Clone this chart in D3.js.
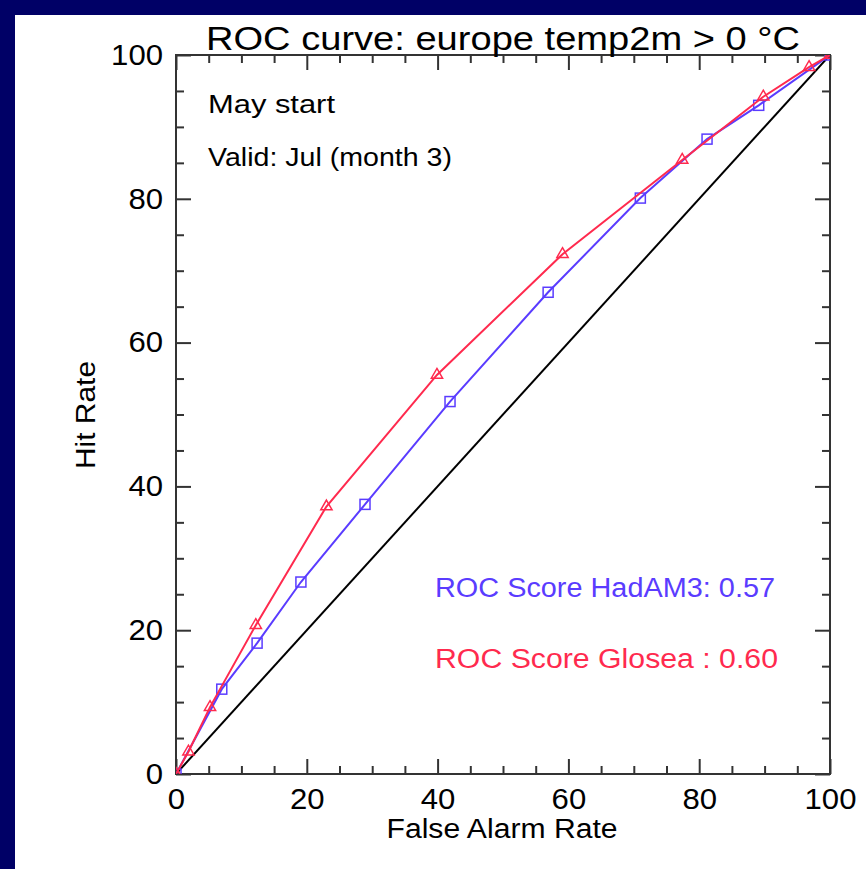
<!DOCTYPE html>
<html>
<head>
<meta charset="utf-8">
<script src="https://cdn.jsdelivr.net/npm/d3@7"></script>
<style>
html,body{margin:0;padding:0;background:#000066;}
svg{display:block;}
text{font-family:"Liberation Sans","DejaVu Sans",sans-serif;}
</style>
</head>
<body>
<script>
// ---- data ----
const titleText = "ROC curve: europe temp2m > 0 \u00B0C";
const xLabel = "False Alarm Rate";
const yLabel = "Hit Rate";
const noteLines = ["May start", "Valid: Jul (month 3)"];
const majorTicks = [0, 20, 40, 60, 80, 100];
const minorTicks = [5,10,15,25,30,35,45,50,55,65,70,75,85,90,95];
const hadFAR = [0, 7.0, 12.4, 19.1, 28.9, 41.9, 56.9, 71.0, 81.2, 89.1, 100];
const hadHR  = [0, 11.8, 18.2, 26.7, 37.5, 51.8, 67.0, 80.1, 88.3, 93.0, 100];
const gloFAR = [0, 1.9, 5.2, 12.2, 23.0, 39.9, 59.1, 77.4, 89.8, 96.8, 100];
const gloHR  = [0, 3.1, 9.3, 20.7, 37.2, 55.5, 72.3, 85.4, 94.2, 98.3, 100];
const diagonal = [0, 100];
const scoreLabels = ["ROC Score HadAM3: 0.57", "ROC Score Glosea : 0.60"];
const blue = "#5a3cff", red = "#ff2a4e";

const W = 866, H = 869;
const L = 176, R = 830, T = 55, B = 774;
const svg = d3.select("body").append("svg").attr("width", W).attr("height", H);
svg.append("rect").attr("x", 15).attr("y", 15).attr("width", W - 15).attr("height", H - 15).attr("fill", "#fff");

const x = d3.scaleLinear().domain([0, 100]).range([L, R]);
const y = d3.scaleLinear().domain([0, 100]).range([B, T]);

const axisColor = "#333";
function styleAxis(g){
  g.select(".domain").remove();
  g.selectAll("line").attr("stroke", axisColor).attr("stroke-width", 2);
  g.selectAll("text").attr("fill", "#000").style("font-size", "29px").attr("font-family", null)
    .attr("textLength", function(){ return this.textContent.length * 17.3; })
    .attr("lengthAdjust", "spacingAndGlyphs");
}
// major ticks with labels
svg.append("g").attr("transform", `translate(0,${B})`)
  .call(d3.axisBottom(x).tickValues(majorTicks).tickSize(-15).tickPadding(13).tickFormat(d3.format("d")))
  .call(styleAxis).selectAll("text").attr("dy", "0.75em");
svg.append("g").attr("transform", `translate(${L},0)`)
  .call(d3.axisLeft(y).tickValues(majorTicks).tickSize(-15).tickPadding(13).tickFormat(d3.format("d")))
  .call(styleAxis);
svg.append("g").attr("transform", `translate(0,${T})`)
  .call(d3.axisTop(x).tickValues(majorTicks).tickSize(-15).tickFormat(""))
  .call(styleAxis);
svg.append("g").attr("transform", `translate(${R},0)`)
  .call(d3.axisRight(y).tickValues(majorTicks).tickSize(-15).tickFormat(""))
  .call(styleAxis);
// minor ticks
svg.append("g").attr("transform", `translate(0,${B})`).call(d3.axisBottom(x).tickValues(minorTicks).tickSize(-8).tickFormat("")).call(styleAxis);
svg.append("g").attr("transform", `translate(${L},0)`).call(d3.axisLeft(y).tickValues(minorTicks).tickSize(-8).tickFormat("")).call(styleAxis);
svg.append("g").attr("transform", `translate(0,${T})`).call(d3.axisTop(x).tickValues(minorTicks).tickSize(-8).tickFormat("")).call(styleAxis);
svg.append("g").attr("transform", `translate(${R},0)`).call(d3.axisRight(y).tickValues(minorTicks).tickSize(-8).tickFormat("")).call(styleAxis);
// frame
svg.append("rect").attr("x", L).attr("y", T).attr("width", R - L).attr("height", B - T)
  .attr("fill", "none").attr("stroke", axisColor).attr("stroke-width", 2);

// clip
svg.append("clipPath").attr("id", "clip").append("rect").attr("x", L).attr("y", T).attr("width", R - L).attr("height", B - T);
const plot = svg.append("g").attr("clip-path", "url(#clip)");

const line = d3.line().x(d => x(d[0])).y(d => y(d[1]));
plot.append("path").datum(diagonal.map(v => [v, v])).attr("d", line)
  .attr("fill", "none").attr("stroke", "#000").attr("stroke-width", 2);

const had = hadFAR.map((v, i) => [v, hadHR[i]]);
const glo = gloFAR.map((v, i) => [v, gloHR[i]]);

plot.append("path").datum(had).attr("d", line).attr("fill", "none").attr("stroke", blue).attr("stroke-width", 2);
plot.selectAll(".sq").data(had).join("rect")
  .attr("x", d => x(d[0]) - 5).attr("y", d => y(d[1]) - 5).attr("width", 10).attr("height", 10)
  .attr("fill", "none").attr("stroke", blue).attr("stroke-width", 1.5);

plot.append("path").datum(glo).attr("d", line).attr("fill", "none").attr("stroke", red).attr("stroke-width", 2);
const tri = d3.symbol().type(d3.symbolTriangle).size(55);
plot.selectAll(".tri").data(glo).join("path")
  .attr("d", tri).attr("transform", d => `translate(${x(d[0])},${y(d[1])})`)
  .attr("fill", "none").attr("stroke", red).attr("stroke-width", 1.5);

// texts
function addText(tx, ty, str, size, width, anchor, color, rot){
  const t = svg.append("text")
    .attr("transform", `translate(${tx},${ty})` + (rot ? ` rotate(${rot})` : ""))
    .attr("text-anchor", anchor || "start").attr("fill", color || "#000")
    .style("font-size", size + "px").text(str);
  if (width) t.attr("textLength", width).attr("lengthAdjust", "spacingAndGlyphs");
  return t;
}
addText(503, 50, titleText, 33, 594, "middle");
addText(502, 838, xLabel, 27, 231, "middle");
addText(95, 415, yLabel, 27, 108, "middle", "#000", -90);
addText(208, 113, noteLines[0], 26, 127);
addText(208, 166, noteLines[1], 26, 244);
addText(435, 597, scoreLabels[0], 27, 340, "start", blue);
addText(435, 668, scoreLabels[1], 27, 343, "start", red);
</script>
</body>
</html>
